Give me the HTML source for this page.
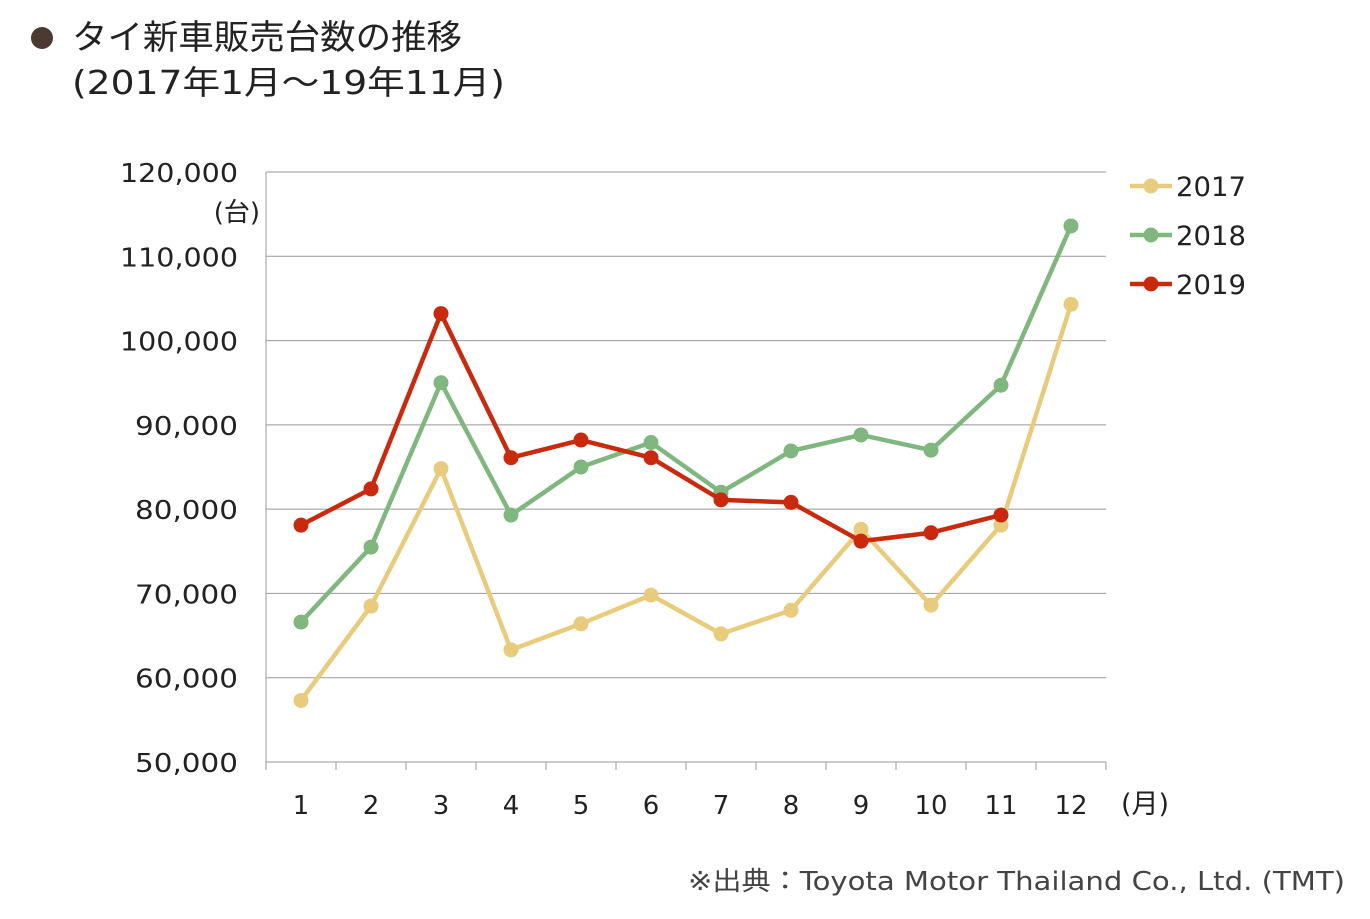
<!DOCTYPE html>
<html><head><meta charset="utf-8">
<style>
html,body{margin:0;padding:0;background:#fff;}
body{width:1370px;height:915px;overflow:hidden;font-family:"DejaVu Sans","Noto Sans CJK JP",sans-serif;color:#222;}
svg text{font-family:"DejaVu Sans","Noto Sans CJK JP",sans-serif;}
</style></head>
<body>
<svg id="chart" width="1370" height="915">
  <circle cx="42" cy="38" r="11" fill="#4a3a32"/>
  <text x="72" y="49" font-size="34" fill="#222" textLength="390" lengthAdjust="spacingAndGlyphs">タイ新車販売台数の推移</text>
  <text x="72" y="94" font-size="33" fill="#222" textLength="433" lengthAdjust="spacingAndGlyphs">(2017年1月～19年11月)</text>
  <text x="260" y="221" font-size="26" text-anchor="end" fill="#222">(台)</text>
  <text x="1121" y="813" font-size="27" fill="#222">(月)</text>
  <text x="688" y="890" font-size="26" fill="#444" textLength="657" lengthAdjust="spacingAndGlyphs">※出典：Toyota Motor Thailand Co., Ltd. (TMT)</text>
  <g id="grid"></g><g id="axes"></g><g id="series"></g><g id="legend"></g>
</svg>
<script>
const months = ['1','2','3','4','5','6','7','8','9','10','11','12'];
const yTicks = [50000,60000,70000,80000,90000,100000,110000,120000];
const seriesNames = ['2017','2018','2019'];
const s2017 = [57300,68500,84800,63300,66400,69800,65200,68000,77600,68600,78100,104300];
const s2018 = [66600,75500,95000,79300,85000,87900,82000,86900,88800,87000,94700,113600];
const s2019 = [78100,82400,103200,86100,88200,86100,81100,80800,76200,77200,79300];
const colors = ['#E8CB7C','#80B77F','#C92A0E'];

const NS='http://www.w3.org/2000/svg';
const L=266,R=1106,T=172,B=762,yMin=50000,yMax=120000;
const bw=(R-L)/months.length;
const xS=i=>L+bw*(i+0.5);
const yS=v=>B-(v-yMin)/(yMax-yMin)*(B-T);
function mk(tag,attrs,parent){const e=document.createElementNS(NS,tag);for(const k in attrs)e.setAttribute(k,attrs[k]);parent.appendChild(e);return e;}
const grid=document.getElementById('grid'),axes=document.getElementById('axes'),ser=document.getElementById('series'),leg=document.getElementById('legend');

yTicks.forEach(v=>{
  if(v>yMin){const g=mk('line',{x1:L,x2:R,y1:yS(v),y2:yS(v),stroke:'#999','stroke-width':1},grid);
  
  }
  const label=v.toLocaleString('en-US');
  const w=label.length===7?118:103;
  const t=mk('text',{x:238-w,y:yS(v)+10,'font-size':26,fill:'#222',textLength:w,lengthAdjust:'spacingAndGlyphs'},axes);
  t.textContent=label;
  
  
});
const ya=mk('line',{x1:L,x2:L,y1:T,y2:B,stroke:'#999','stroke-width':1},axes);


const xa=mk('line',{x1:L,x2:R,y1:B,y2:B,stroke:'#999','stroke-width':1},axes);


for(let i=0;i<=months.length;i++){
  const tk=mk('line',{x1:L+bw*i,x2:L+bw*i,y1:B,y2:B+8,stroke:'#999'},axes);
  
  
}
months.forEach((m,i)=>{
  const t=mk('text',{x:xS(i),y:814,'font-size':26,'text-anchor':'middle',fill:'#222'},axes);
  t.textContent=m;
  
  
});
[s2017,s2018,s2019].forEach((data,si)=>{
  const g=mk('g',{},ser);
  
  
  const p=mk('polyline',{points:data.map((v,i)=>xS(i)+','+yS(v)).join(' '),fill:'none',stroke:colors[si],'stroke-width':4.5,'stroke-linejoin':'round'},g);
  
  
  data.forEach((v,i)=>{
    const c=mk('circle',{cx:xS(i),cy:yS(v),r:7.5,fill:colors[si]},g);
    
    
  });
  const ly=186+si*49;
  const lg=mk('g',{},leg);
  
  
  mk('line',{x1:1130,x2:1172,y1:ly,y2:ly,stroke:colors[si],'stroke-width':4.5},lg);
  mk('circle',{cx:1151,cy:ly,r:7.5,fill:colors[si]},lg);
  const t=mk('text',{x:1176,y:ly+10,'font-size':27,fill:'#222',textLength:70,lengthAdjust:'spacingAndGlyphs'},lg);
  t.textContent=seriesNames[si];
});
</script>
</body></html>
